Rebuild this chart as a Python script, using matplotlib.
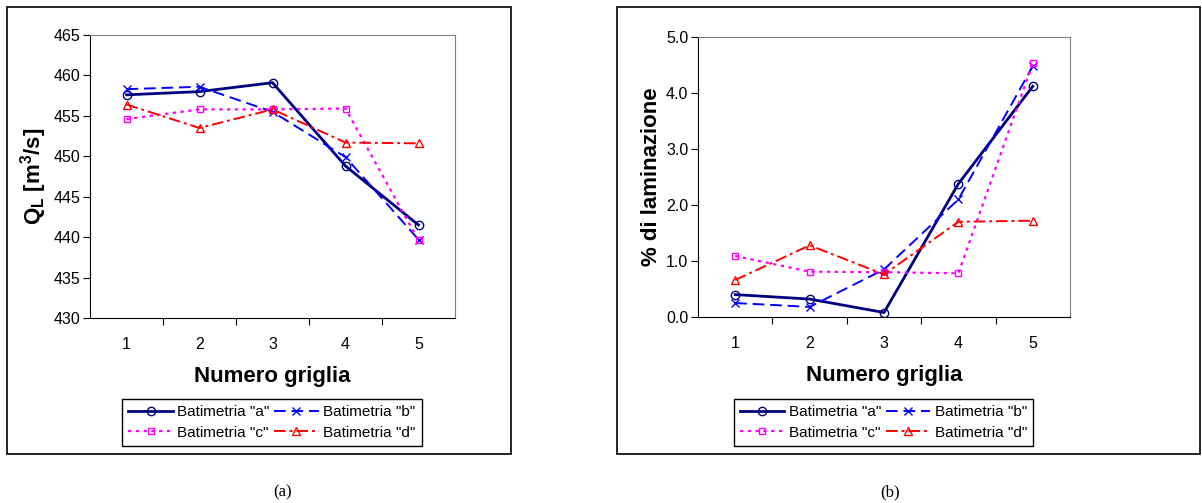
import matplotlib
matplotlib.use("Agg")
import matplotlib.pyplot as plt
from matplotlib.patches import Rectangle

plt.rcParams['font.family'] = ['Liberation Sans', 'DejaVu Sans']
plt.rcParams['mathtext.fontset'] = 'custom'
plt.rcParams['mathtext.rm'] = 'Liberation Sans:bold'
plt.rcParams['mathtext.bf'] = 'Liberation Sans:bold'

griglie = [1, 2, 3, 4, 5]
labels = ['Batimetria "a"', 'Batimetria "b"', 'Batimetria "c"', 'Batimetria "d"']

# portata laminata Q_L [m3/s]
ql_a = [457.6, 458.0, 459.1, 448.8, 441.5]
ql_b = [458.3, 458.6, 455.5, 449.9, 439.7]
ql_c = [454.6, 455.8, 455.8, 455.9, 439.6]
ql_d = [456.4, 453.5, 455.8, 451.7, 451.6]

# % di laminazione
lam_a = [0.40, 0.32, 0.08, 2.38, 4.12]
lam_b = [0.25, 0.18, 0.85, 2.10, 4.48]
lam_c = [1.09, 0.81, 0.80, 0.78, 4.53]
lam_d = [0.66, 1.28, 0.76, 1.70, 1.72]

stili = [
    dict(color='#000080', ls='-', lw=2.0, marker='o', ms=6, mfc='none'),
    dict(color='#0000FF', ls=(0, (6, 3)), lw=1.4, marker='x', ms=6),
    dict(color='#FF00FF', ls=(0, (1.5, 2)), lw=1.6, marker='s', ms=5, mfc='none'),
    dict(color='#FF0000', ls=(0, (6, 2, 1.5, 2)), lw=1.4, marker='^', ms=6, mfc='none'),
]

fig = plt.figure(figsize=(12.02, 5.03), dpi=100)
W, H = 1202.0, 503.0

# cornici esterne
for x0, x1 in [(7, 511), (617, 1200)]:
    fig.patches.append(Rectangle((x0 / W, (H - 454) / H), (x1 - x0) / W, 447 / H,
                                 transform=fig.transFigure, fill=False,
                                 edgecolor='black', lw=1.2))


def pannello(rect, serie, ylim, yticks, yfmt, ylabel, leg_x, caption_x, caption):
    ax = fig.add_axes(rect)
    linee = []
    for dati, st, lab in zip(serie, stili, labels):
        linee += ax.plot(griglie, dati, label=lab, **st)
    ax.set_xlim(0.5, 5.5)
    ax.set_ylim(*ylim)
    ax.set_xticks([1.5, 2.5, 3.5, 4.5])
    ax.set_xticks(griglie, minor=True)
    ax.set_xticklabels([str(g) for g in griglie], minor=True)
    ax.tick_params(axis='x', which='major', length=5, direction='out', labelbottom=False)
    ax.tick_params(axis='x', which='minor', length=0, labelsize=11.5, pad=14)
    ax.set_yticks(yticks)
    ax.set_yticklabels([yfmt.format(v) for v in yticks])
    ax.tick_params(axis='y', length=5, direction='out', labelsize=11.5, pad=2)
    ax.spines['top'].set_color('#808080')
    ax.spines['right'].set_color('#808080')
    ax.set_xlabel('Numero griglia', fontsize=16, fontweight='bold', labelpad=10)
    ax.set_ylabel(ylabel, fontsize=16, fontweight='bold', labelpad=3)
    # ordine per righe come in Excel: a b / c d
    ordine = [0, 2, 1, 3]
    ax.legend([linee[i] for i in ordine], [labels[i] for i in ordine],
              loc='center', bbox_to_anchor=(leg_x / W, (H - 422.5) / H),
              bbox_transform=fig.transFigure, ncol=2, fontsize=11,
              frameon=True, fancybox=False, edgecolor='black', framealpha=1,
              handlelength=2.9, handletextpad=0.3, columnspacing=0.3,
              borderpad=0.4, labelspacing=0.4, borderaxespad=0)
    fig.text(caption_x / W, (H - 492) / H, caption, ha='center', va='center',
             fontsize=12, family=['Liberation Serif', 'DejaVu Serif'])
    return ax


pannello([90 / W, (H - 318) / H, 365 / W, 283 / H],
         [ql_a, ql_b, ql_c, ql_d], (430, 465), list(range(430, 466, 5)), '{:d}',
         r'Q$_\mathrm{L}$ [m$^\mathrm{3}$/s]', 272, 283, '(a)')

pannello([698 / W, (H - 317) / H, 372 / W, 280 / H],
         [lam_a, lam_b, lam_c, lam_d], (0, 5), [0, 1, 2, 3, 4, 5], '{:.1f}',
         '% di laminazione', 883.5, 890, '(b)')

fig.savefig('out.png', dpi=100)
